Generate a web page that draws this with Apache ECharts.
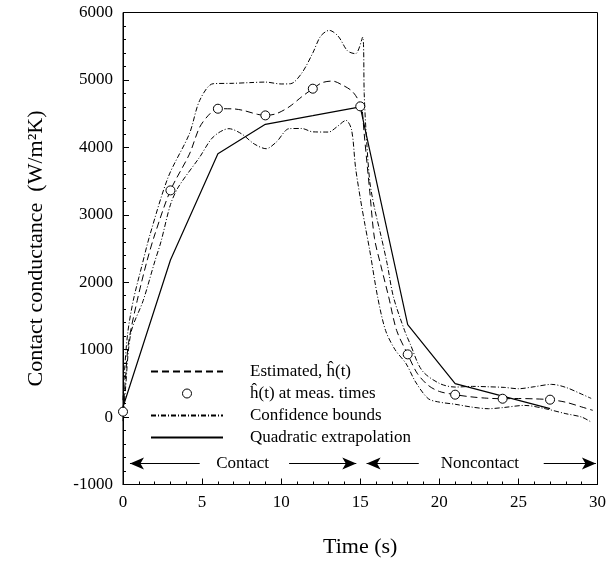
<!DOCTYPE html>
<html>
<head>
<meta charset="utf-8">
<script src="https://cdn.jsdelivr.net/npm/echarts@6/dist/echarts.min.js"></script>
<style>
html,body{margin:0;padding:0;background:#fff;}
#chart{width:609px;height:575px;}
</style>
</head>
<body>
<div id="chart"></div>
<script>
// ---- data (time s, contact conductance W/m2K) ----
var seriesNames = ['Estimated, ĥ(t)', 'ĥ(t) at meas. times', 'Confidence bounds', 'Quadratic extrapolation'];

var estimated = [[0,80],[0.15,550],[0.35,1100],[0.9,1730],[1.5,2300],[2,2700],[3,3362],[4.2,3900],[4.85,4300],[5.5,4500],[6,4573],[7,4570],[7.6,4548],[8.5,4490],[9,4474],[9.7,4500],[10.5,4600],[11.3,4750],[12,4870],[12.6,4960],[13.25,4983],[13.9,4920],[14.4,4850],[14.7,4771],[15,4650],[15.1,4608],[15.25,4200],[15.6,3350],[15.9,2650],[16.3,2250],[16.8,1780],[17.3,1285],[18,930],[18.6,650],[19.3,470],[20,380],[21,332],[22,300],[23,280],[24,272],[25,275],[26,270],[27,258],[28,220],[29,150],[29.7,100]];

var measured = [[0,80],[3,3362],[6,4573],[9,4474],[12,4870],[15,4608],[18,930],[21,332],[24,272],[27,258]];

var upperBound = [[0,250],[0.1,700],[0.3,1250],[0.65,1730],[1.2,2250],[1.7,2700],[2.86,3560],[4.2,4203],[4.85,4697],[5.7,4944],[7,4950],[8,4960],[9,4968],[10,4940],[10.6,4944],[11.3,5100],[12,5400],[12.5,5650],[13.04,5735],[13.6,5650],[14.2,5430],[14.7,5389],[15.15,5635],[15.25,4800],[15.35,4300],[15.6,3500],[15.9,3100],[16.3,2700],[16.7,2275],[17.1,1780],[17.8,1285],[18.15,1088],[18.9,693],[20,500],[21,445],[22.1,455],[23,450],[24.1,440],[25,420],[26,450],[27.1,485],[28,440],[29,340],[29.6,277]];

var lowerBound = [[0,-60],[0.15,400],[0.5,1250],[1.28,1730],[2,2300],[2.4,2600],[3,3150],[3.5,3411],[4.85,3856],[5.7,4153],[6.7,4277],[7.5,4200],[8.3,4050],[9.05,3980],[9.7,4080],[10.5,4277],[11.3,4280],[12,4230],[13,4227],[13.5,4300],[14.1,4400],[14.45,4260],[14.7,3707],[15,3250],[15.3,2850],[15.6,2472],[16.1,1780],[16.6,1285],[17.2,1000],[17.9,791],[18.5,520],[19.3,273],[20,222],[21,190],[22,150],[23.1,124],[24,140],[25.4,173],[26.7,124],[28,50],[29,0],[29.6,-74]];

var quadratic = [[0,150],[3,2330],[6,3906],[9,4341],[12,4470],[15,4600],[18,1370],[21,495],[24,310],[27,125]];

// annotation arrows: [tail time, head time] at arrowLevel
var arrowLevel = -690;
var arrows = [[4.85,0.44],[10.5,14.75],[18.7,15.4],[26.6,29.9]];
var arrowLabels = [[7.56,-690,'Contact'],[22.56,-690,'Noncontact']];

var xTicks = {min:0, max:30, interval:5};
var yTicks = {min:-1000, max:6000, interval:1000};

var FONT = 'Liberation Serif';

var chart = echarts.init(document.getElementById('chart'), null, {renderer:'canvas'});

function axisCommon(){
  return {
    axisLine:{show:true, onZero:false, lineStyle:{color:'#000', width:1}},
    axisTick:{show:true, inside:true, length:6, lineStyle:{color:'#000'}},
    minorTick:{show:true, splitNumber:5, length:3, lineStyle:{color:'#000'}},
    splitLine:{show:false},
    axisLabel:{color:'#000', fontFamily:FONT, fontSize:17, margin:10,
      formatter:function(v){return String(v);}}
  };
}

var xAxis = Object.assign(axisCommon(), {type:'value', min:xTicks.min, max:xTicks.max, interval:xTicks.interval,
  name:'Time (s)', nameLocation:'middle', nameGap:52,
  nameTextStyle:{color:'#000', fontFamily:FONT, fontSize:22}});
var yAxis = Object.assign(axisCommon(), {type:'value', min:yTicks.min, max:yTicks.max, interval:yTicks.interval,
  name:'Contact conductance  (W/m²K)', nameLocation:'middle', nameGap:76,
  nameTextStyle:{color:'#000', fontFamily:FONT, fontSize:22}});

var option = {
  animation:false,
  backgroundColor:'#fff',
  grid:{left:123, right:10, top:12.5, bottom:90.5, show:true, borderColor:'#000', borderWidth:1, backgroundColor:'transparent'},
  xAxis:xAxis,
  yAxis:yAxis,
  legend:{
    data:[
      {name:seriesNames[0], itemStyle:{opacity:0}},
      {name:seriesNames[1], itemStyle:{color:'#fff', borderColor:'#000', borderWidth:1}},
      {name:seriesNames[2], itemStyle:{opacity:0}},
      {name:seriesNames[3], itemStyle:{opacity:0}}
    ],
    orient:'vertical', left:145, top:358,
    itemWidth:72, itemHeight:9, itemGap:5,
    textStyle:{color:'#000', fontFamily:FONT, fontSize:17, padding:[0,0,0,22]},
    inactiveColor:'#000'
  },
  series:[
    {name:seriesNames[0], type:'line', data:estimated, smooth:0.3, showSymbol:false, symbol:'none',
      lineStyle:{color:'#000', width:1, type:[7,4]}, itemStyle:{color:'#000'}, z:3},
    {name:seriesNames[1], type:'scatter', data:measured, symbol:'circle', symbolSize:9,
      itemStyle:{color:'#fff', borderColor:'#000', borderWidth:1, opacity:1}, z:5},
    {name:seriesNames[2], type:'line', data:upperBound, smooth:0.3, showSymbol:false, symbol:'none',
      lineStyle:{color:'#000', width:1, type:[5,2,1,2]}, itemStyle:{color:'#000'}, z:3},
    {name:seriesNames[2], type:'line', data:lowerBound, smooth:0.3, showSymbol:false, symbol:'none',
      lineStyle:{color:'#000', width:1, type:[5,2,1,2]}, itemStyle:{color:'#000'}, z:3},
    {name:seriesNames[3], type:'line', data:quadratic, smooth:false, showSymbol:false, symbol:'none',
      lineStyle:{color:'#000', width:1.2, type:'solid'}, itemStyle:{color:'#000'}, z:4},
    {name:'annotations', type:'scatter', data:arrowLabels, symbolSize:1,
      itemStyle:{color:'#fff', opacity:1},
      label:{show:true, position:'inside', color:'#000', opacity:1, textBorderWidth:0, fontFamily:FONT, fontSize:17,
        formatter:function(p){return p.data[2];}},
      markLine:{silent:true, symbol:['none','arrow'], symbolSize:[9,14], label:{show:false},
        lineStyle:{color:'#000', width:1, type:'solid'},
        data:arrows.map(function(a){return [{coord:[a[0],arrowLevel]},{coord:[a[1],arrowLevel]}];})}
    }
  ]
};
chart.setOption(option);
</script>
</body>
</html>
